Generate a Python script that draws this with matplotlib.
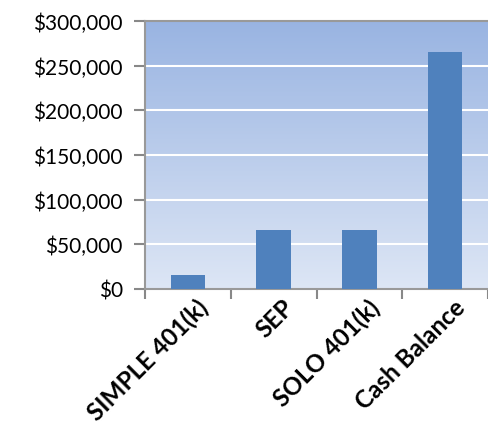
import numpy as np
import matplotlib.pyplot as plt
from matplotlib.ticker import FuncFormatter

categories = ['SIMPLE 401(k)', 'SEP', 'SOLO 401(k)', 'Cash Balance']
limits = [15500, 66000, 66000, 265000]
y_ticks = [0, 50000, 100000, 150000, 200000, 250000, 300000]

plt.rcParams['font.family'] = ['Lato', 'DejaVu Sans']

fig = plt.figure(figsize=(4.88, 4.31), dpi=100)
ax = fig.add_axes([145 / 488, 141 / 431, 1 - 145 / 488, 268 / 431])

# gradient background
grad = np.linspace(0, 1, 256).reshape(-1, 1)
top = np.array([0x99, 0xB4, 0xE2]) / 255
bot = np.array([0xDD, 0xE6, 0xF5]) / 255
img = top + (bot - top) * grad[:, :, None]
ax.imshow(img, extent=[0, 1, 0, 1], transform=ax.transAxes, aspect='auto',
          zorder=0)

x = np.arange(len(categories))
ax.bar(x, limits, width=0.4, color='#4F81BD', zorder=3)

ax.set_xlim(-0.5, len(categories) - 0.5)
ax.set_ylim(0, 300000)
ax.set_yticks(y_ticks)
ax.yaxis.set_major_formatter(FuncFormatter(lambda v, p: f'${v:,.0f}'))
for y in y_ticks[1:-1]:
    ax.axhline(y, color='white', linewidth=1.5, zorder=1)

ax.set_xticks(np.arange(len(categories) + 1) - 0.5)
ax.set_xticklabels([])
ax.set_xticks(x + 0.1, minor=True)
ax.set_xticklabels(categories, minor=True, rotation=45, ha='right', va='top',
                   rotation_mode='anchor', fontsize=17.5, fontweight='bold')
ax.tick_params(axis='x', which='minor', length=0, pad=4)
ax.tick_params(axis='x', which='major', length=7, color='#888888', width=1.5)
ax.tick_params(axis='y', length=8, color='#888888', width=1.5, labelsize=15,
               pad=8)

for s in ['left', 'bottom', 'top']:
    ax.spines[s].set_color('#999999')
    ax.spines[s].set_linewidth(1.5)
ax.spines['right'].set_visible(False)

fig.savefig('out.png', dpi=100)
